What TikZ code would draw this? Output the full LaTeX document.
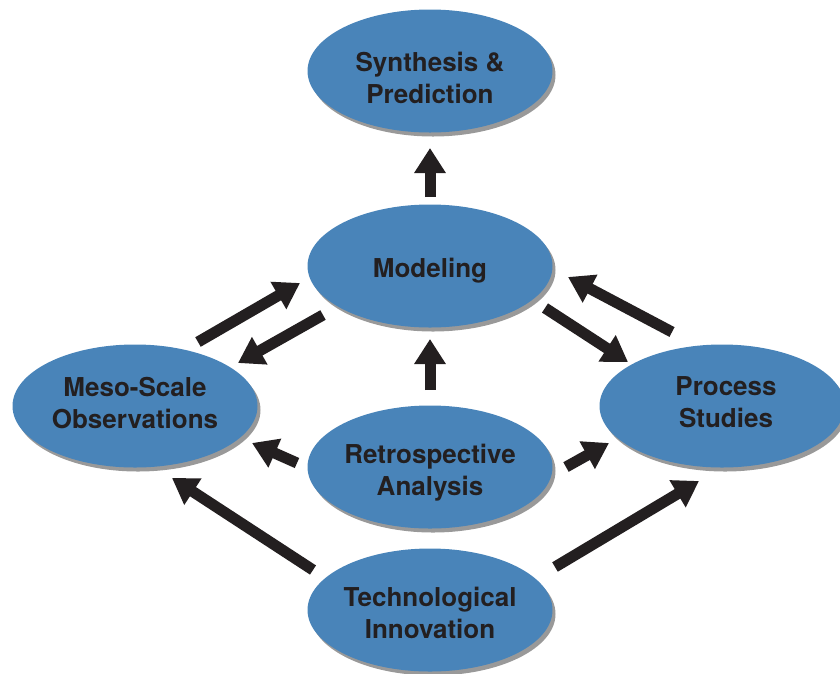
\documentclass[tikz,border=0pt]{standalone}
\usepackage{fontspec}
\setmainfont{TeX Gyre Heros}
\usetikzlibrary{arrows.meta,shapes.geometric,shadows}
\definecolor{bubble}{RGB}{73,132,185}
\definecolor{ink}{RGB}{35,31,32}

\tikzset{
    bubble/.style={ellipse, fill=bubble, minimum width=245, minimum height=123, inner sep=0pt,
        drop shadow={shadow xshift=3pt, shadow yshift=-4pt, fill=black!40, opacity=1}},
    every label/.style={text=ink, font=\fontsize{26}{32}\selectfont\bfseries, align=center, inner sep=0pt},
    fat/.style={line width=11pt, color=ink, -{Triangle[length=25pt,width=30pt]}}
}

\begin{document}
\begin{tikzpicture}[line cap=butt,line join=miter,x=1pt,y=-1pt]
    \useasboundingbox (0,0) rectangle (840,673);

    % Ellipses, text as centred labels
    \node[bubble, label={[yshift=-7pt]center:{Synthesis \&\\Prediction}}] (Syn) at (430,71) {};
    \node[bubble, label={[yshift=-5pt]center:{Modeling}}] (Mod) at (430,266) {};
    \node[bubble, label={[yshift=3pt]center:{Meso-Scale\\Observations}}] (Meso) at (135,406) {};
    \node[bubble, label={[xshift=4pt,yshift=3.5pt]center:{Process\\Studies}}] (Proc) at (722,406) {};
    \node[bubble, label={[yshift=-5.5pt]center:{Retrospective\\Analysis}}] (Retro) at (430,467) {};
    \node[bubble, label={[yshift=-3pt]center:{Technological\\Innovation}}] (Tech) at (430,610) {};

    % Arrow ends
    \coordinate (ModUp) at (430,197);   \coordinate (SynIn) at (430,148);
    \coordinate (RetroUp) at (430,390); \coordinate (ModIn) at (430,339);
    \coordinate (MesoOut) at (198,342); \coordinate (ModInL) at (300,283);
    \coordinate (ModOutL) at (323,315); \coordinate (MesoIn) at (238,363);
    \coordinate (ModOutR) at (545,308); \coordinate (ProcIn) at (628,362);
    \coordinate (ProcOut) at (672,332); \coordinate (ModInR) at (568,277);
    \coordinate (RetroL) at (297,463);  \coordinate (MesoInR) at (252,443);
    \coordinate (RetroR) at (566,467);  \coordinate (ProcInL) at (609,443);
    \coordinate (TechL) at (313,570);   \coordinate (MesoInB) at (172,478);
    \coordinate (TechR) at (555,567);   \coordinate (ProcInB) at (699,481);

    % Arrows
    \foreach \source/\target in {ModUp/SynIn, RetroUp/ModIn, MesoOut/ModInL, ModOutL/MesoIn,
            ModOutR/ProcIn, ProcOut/ModInR, RetroL/MesoInR, RetroR/ProcInL,
            TechL/MesoInB, TechR/ProcInB} {
            \draw[fat] (\source) -- (\target);
        }
\end{tikzpicture}
\end{document}
